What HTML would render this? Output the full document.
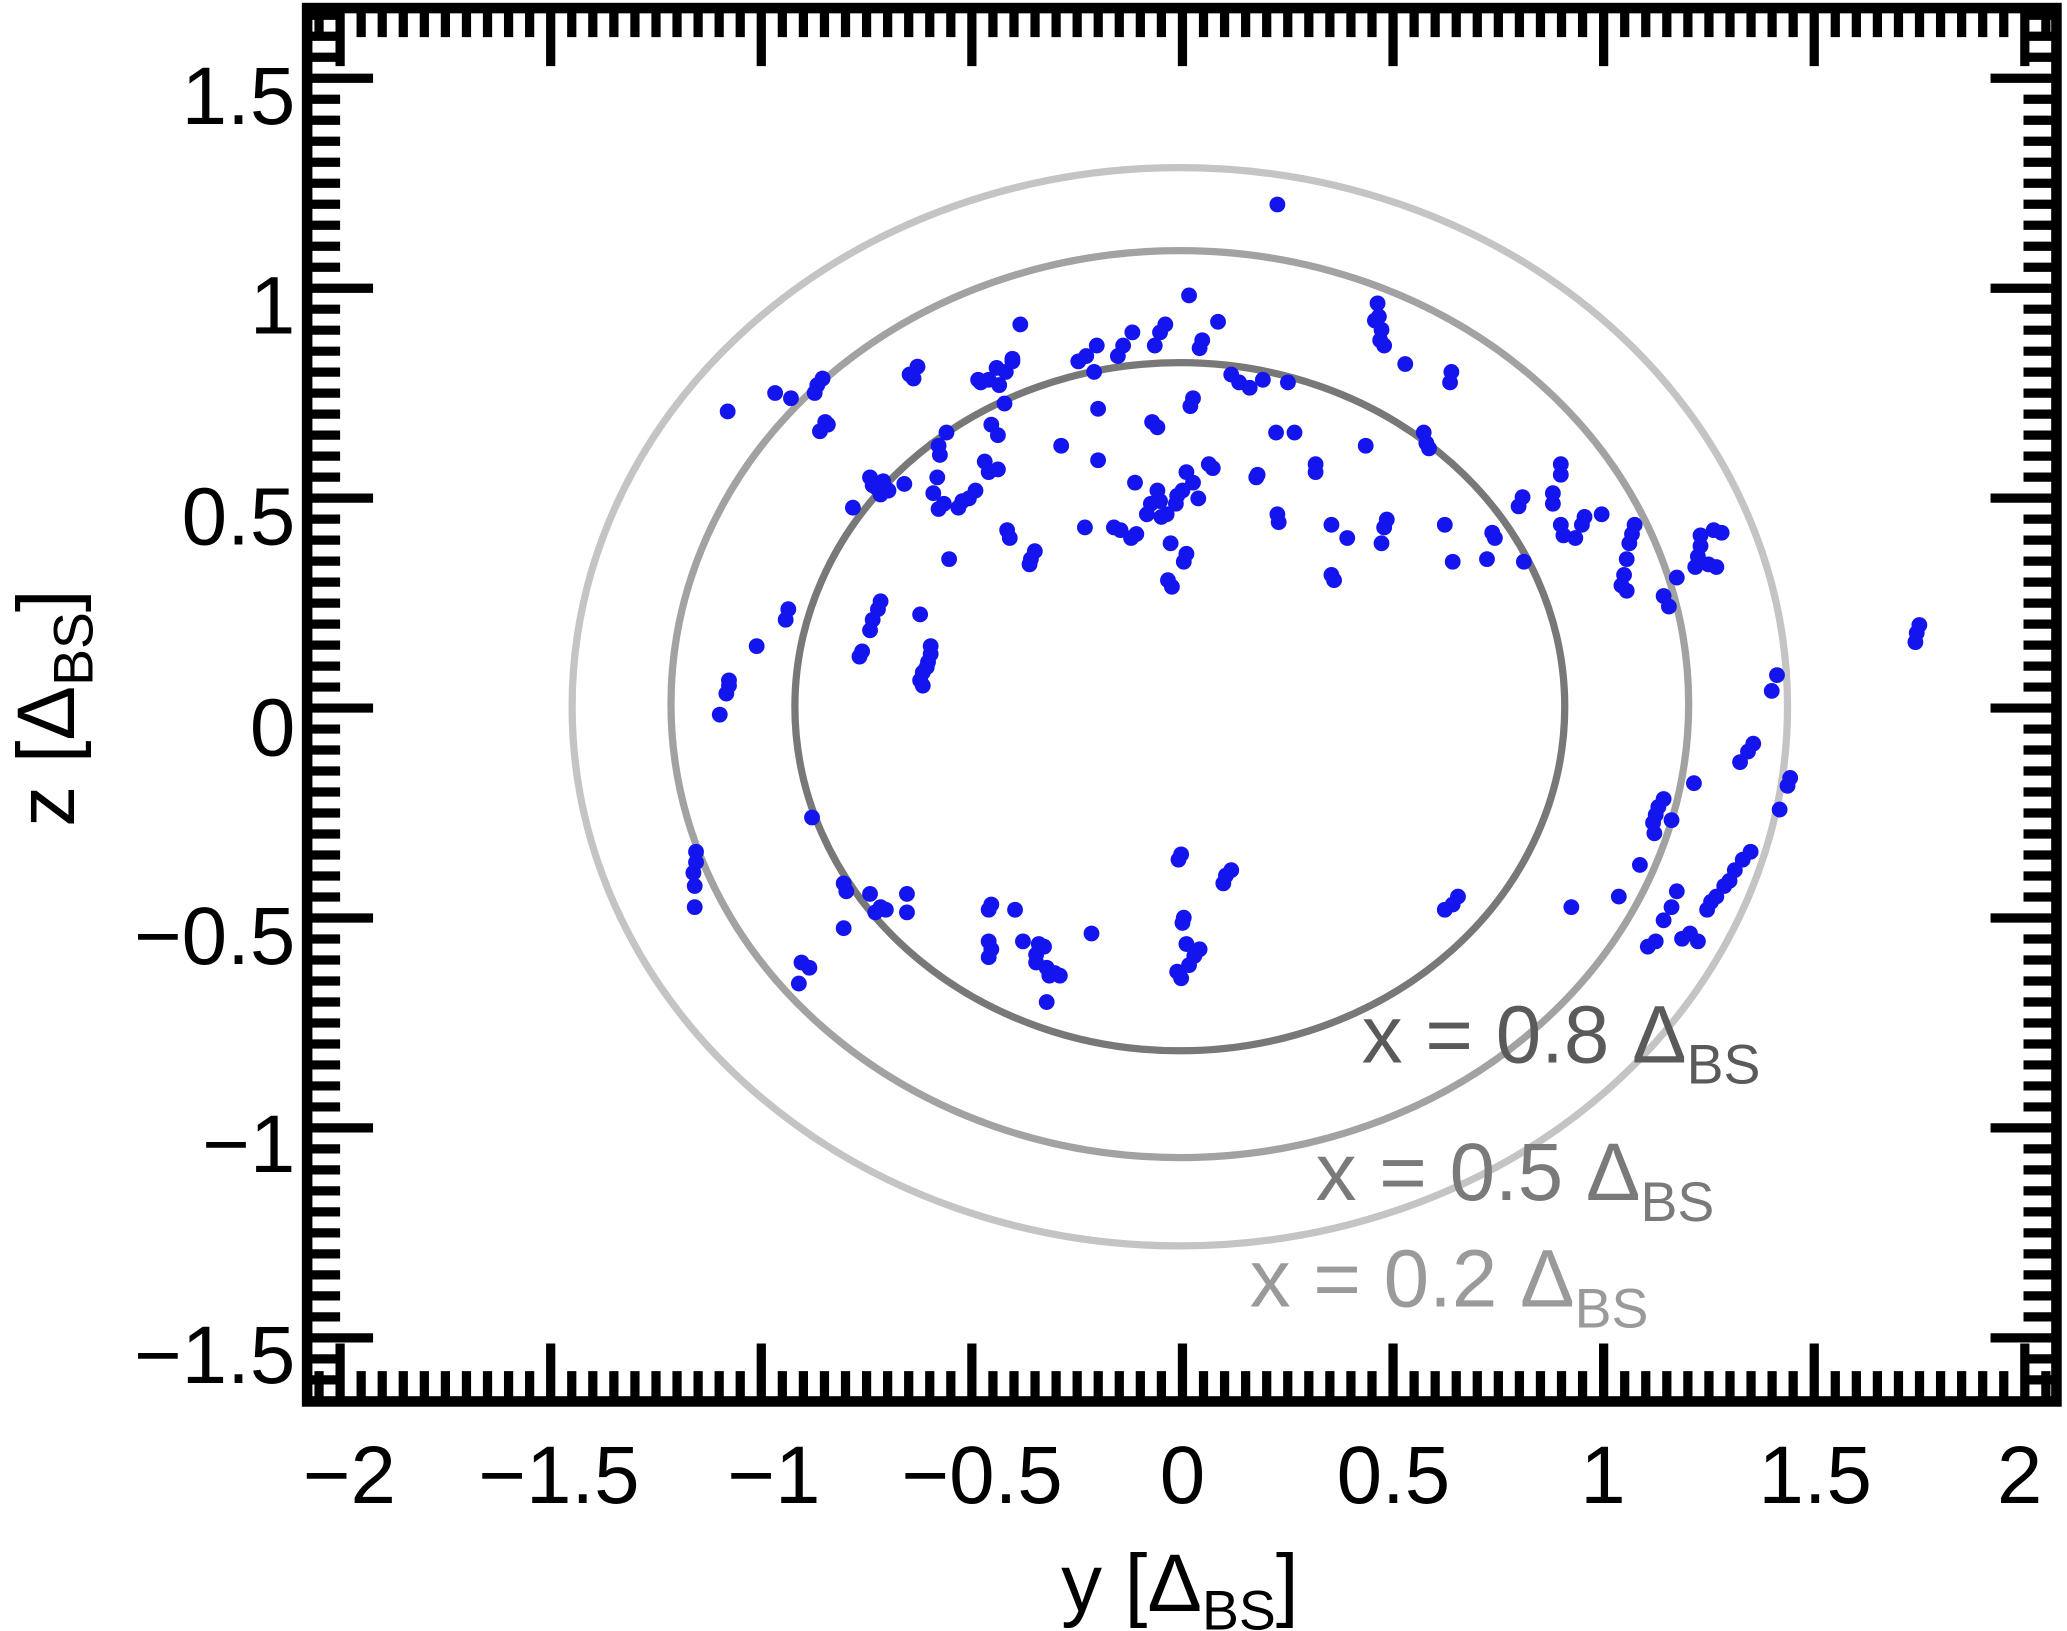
<!DOCTYPE html>
<html><head><meta charset="utf-8"><style>
html,body{margin:0;padding:0;background:#fff;}
svg{display:block;}
text{font-family:"Liberation Sans","DejaVu Sans",sans-serif;}
</style></head><body>
<svg id="s" xmlns="http://www.w3.org/2000/svg" width="2067" height="1631" viewBox="0 0 1568 1237">
<rect width="1568" height="1237" fill="#fff"/>
<g id="ell" fill="none" stroke-width="5.5">
<ellipse cx="895" cy="536" rx="461" ry="409" stroke="#c4c4c4"/>
<ellipse cx="895" cy="534" rx="386" ry="344" stroke="#a2a2a2"/>
<ellipse cx="895" cy="536" rx="292" ry="261" stroke="#787878"/>
</g>
<g id="pts" fill="#1414ee"></g>
<g id="ticks" stroke="#000" stroke-width="7"></g>
<rect x="233" y="6" width="1327" height="1057" fill="none" stroke="#000" stroke-width="8"/>
<g font-size="62" fill="#000">
<g text-anchor="middle">
<text x="265" y="1140">−2</text>
<text x="424" y="1140">−1.5</text>
<text x="587" y="1140">−1</text>
<text x="745" y="1140">−0.5</text>
<text x="897" y="1140">0</text>
<text x="1057" y="1140">0.5</text>
<text x="1216" y="1140">1</text>
<text x="1377" y="1140">1.5</text>
<text x="1532" y="1140">2</text>
</g>
<g text-anchor="end">
<text x="224" y="94">1.5</text>
<text x="224" y="253">1</text>
<text x="224" y="413">0.5</text>
<text x="224" y="573">0</text>
<text x="224" y="731">−0.5</text>
<text x="224" y="889">−1</text>
<text x="224" y="1049">−1.5</text>
</g>
<text x="895" y="1222" text-anchor="middle">y [Δ<tspan font-size="42" dy="14">BS</tspan><tspan dy="-14">]</tspan></text>
<text transform="translate(56,537) rotate(-90)" text-anchor="middle">z [Δ<tspan font-size="42" dy="14">BS</tspan><tspan dy="-14">]</tspan></text>
</g>
<g font-size="62">
<text x="1033" y="806" fill="#5a5a5a">x = 0.8 Δ<tspan font-size="42" dy="16">BS</tspan></text>
<text x="998" y="910" fill="#7a7a7a">x = 0.5 Δ<tspan font-size="42" dy="16">BS</tspan></text>
<text x="948" y="991" fill="#9a9a9a">x = 0.2 Δ<tspan font-size="42" dy="16">BS</tspan></text>
</g>
</svg>
<script>
(function(){
var t=document.getElementById("ticks"),h="";
for(var i=-45;i<=45;i++){var v=i*0.05,x=897+319.5*v;if(x<237||x>1556)continue;var mj=(i%10===0);
h+='<line x1="'+x+'" y1="1062" x2="'+x+'" y2="'+(mj?1019:1040)+'"/>';
h+='<line x1="'+x+'" y1="6" x2="'+x+'" y2="'+(mj?50:28)+'"/>';}
for(var i=-40;i<=40;i++){var v=i*0.05,y=537-318.5*v;if(y<10||y>1058)continue;var mj=(i%10===0);
h+='<line x1="233" y1="'+y+'" x2="'+(mj?283:258)+'" y2="'+y+'"/>';
h+='<line x1="1560" y1="'+y+'" x2="'+(mj?1510:1535)+'" y2="'+y+'"/>';}
t.innerHTML=h;
var P=[969,155,902,224,884,246,880,252,876,262,924,244,912,258,910,264,859,252,852,262,848,270,832,262,824,270,818,274,830,282,774,246,768,274,763,282,756,279,750,288,744,290,758,292,768,272,742,288,696,278,690,284,693,287,588,298,600,302,618,298,620,292,624,287,552,312,626,320,622,327,628,322,934,284,940,290,948,294,958,288,977,290,1045,230,1046,240,1043,243,1048,250,1047,258,1050,262,1066,276,1101,282,1100,290,905,302,903,308,874,320,878,324,833,310,762,306,752,322,757,330,718,328,712,338,713,345,747,350,750,358,757,356,711,362,708,374,716,382,712,386,735,378,740,372,727,385,730,380,660,362,662,368,665,370,670,365,686,367,674,372,668,375,647,385,805,338,833,349,861,366,878,372,880,380,873,382,870,390,881,392,893,376,897,372,905,366,900,358,917,352,909,378,953,362,954,360,920,355,968,328,982,328,998,352,998,358,1036,338,1080,328,1082,336,1084,340,764,402,766,408,785,418,782,424,823,400,850,402,858,408,862,405,845,400,892,382,885,390,888,412,900,420,898,426,889,445,886,440,969,390,970,396,1010,398,1022,408,1052,394,1050,400,1048,412,1096,398,1102,426,1128,424,1134,408,1132,404,1155,377,1152,384,1156,426,1184,352,1184,360,1178,374,1178,382,1184,398,1186,406,1202,392,1200,398,1215,390,1195,408,1240,398,1238,405,1236,412,1234,424,1232,436,1230,444,1234,448,1262,452,1266,460,1272,438,1290,406,1290,414,1300,402,1306,404,1288,422,1286,430,1296,428,1302,430,1010,436,1012,440,720,424,781,428,598,462,596,470,574,490,553,516,553,520,551,526,546,542,668,456,666,462,662,470,660,478,654,494,652,498,698,466,706,490,706,496,704,502,700,510,698,516,700,520,703,506,1456,474,1454,480,1453,487,1348,512,1344,524,1330,564,1326,570,1320,578,1358,590,1356,596,1350,614,1285,594,1262,606,1258,612,1256,618,1254,624,1268,622,1255,632,1244,656,1328,646,1322,652,1316,660,1312,668,1308,672,1302,680,1298,684,1295,690,1272,676,1268,688,1262,698,1256,714,1250,718,1276,712,1282,708,1288,714,1228,680,1192,688,1106,680,1102,686,1096,690,896,648,894,652,934,660,930,664,928,670,898,696,897,700,900,716,910,720,906,725,902,732,896,742,893,737,528,646,528,654,526,662,527,672,527,688,616,620,640,670,642,676,660,678,688,678,688,692,668,688,664,692,640,704,608,730,614,734,606,746,752,686,750,690,770,690,750,714,752,720,750,726,776,714,788,716,786,724,786,730,792,718,794,734,796,740,800,738,804,740,828,708,794,760,672,690];
var g=document.getElementById("pts"),s="";
for(var i=0;i<P.length;i+=2)s+='<circle cx="'+P[i]+'" cy="'+P[i+1]+'" r="6"/>';
g.innerHTML=s;
})();
</script>
</body></html>
